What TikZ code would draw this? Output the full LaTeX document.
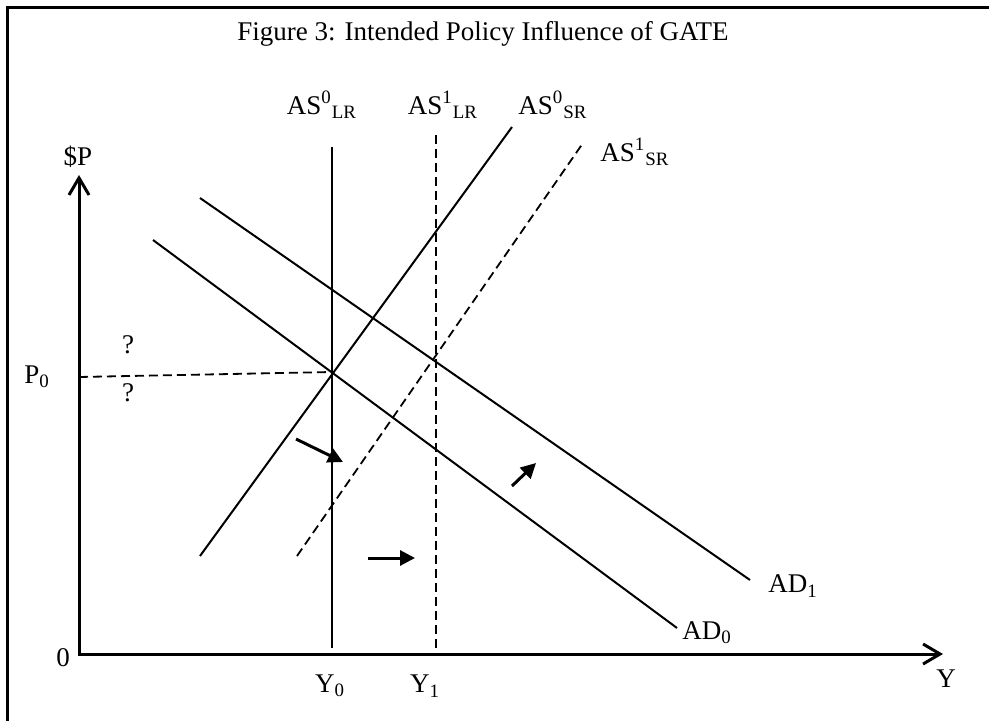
\documentclass[tikz,border=0pt]{standalone}
\usepackage{fontspec}
\setmainfont{Liberation Serif}
\usetikzlibrary{arrows.meta}
\tikzset{
  curve/.style={line width=1pt},
  shifted/.style={line width=0.9pt, dash pattern=on 4.5pt off 2.5pt},
  axisarrow/.style={line width=1.5pt, line join=miter,
    {Straight Barb[length=8.5pt,width=10pt]}-{Straight Barb[length=8.5pt,width=10pt]}},
  shiftarrow/.style={line width=1.5pt, -{Triangle[length=7.5pt,width=7.5pt]}},
  lbl/.style={inner sep=0pt, font=\fontsize{13.5}{16}\selectfont}
}
\begin{document}
\begin{tikzpicture}[x=0.5pt,y=-0.5pt]
\useasboundingbox (0,0) rectangle (989,721);
% frame (only left and top edges are on the page)
\draw[line width=1.2pt] (7.5,740) -- (7.5,7.5) -- (1005,7.5);
\node[lbl] (title) at (483,34) {Figure 3: Intended Policy Influence of GATE};
% axes
\coordinate (O) at (79,654);
\coordinate (ytip) at (79,175);
\coordinate (xtip) at (943,654);
\draw[axisarrow] (ytip) -- (O) -- (xtip);
\node[lbl] (plbl) at (78,157) {\$P};
\node[lbl] (zerolbl) at (63,658) {0};
\node[lbl] (ylbl) at (946,679) {Y};
% long-run supply
\coordinate (lr0top) at (332,147); \coordinate (lr0bot) at (332,648);
\coordinate (lr1top) at (436,135); \coordinate (lr1bot) at (436,648);
\draw[curve] (lr0top) -- (lr0bot);
\draw[shifted] (lr1top) -- (lr1bot);
\node[lbl] (lr0lbl) at (322,105) {AS\textsuperscript{0}\textsubscript{LR}};
\node[lbl] (lr1lbl) at (443,105) {AS\textsuperscript{1}\textsubscript{LR}};
\node[lbl] (y0lbl) at (330,686) {Y\textsubscript{0}};
\node[lbl] (y1lbl) at (425,686) {Y\textsubscript{1}};
% short-run supply
\coordinate (sr0a) at (200,556); \coordinate (sr0b) at (512,127);
\coordinate (sr1a) at (297,556); \coordinate (sr1b) at (583,143);
\draw[curve] (sr0a) -- (sr0b);
\draw[shifted] (sr1a) -- (sr1b);
\node[lbl] (sr0lbl) at (553,105) {AS\textsuperscript{0}\textsubscript{SR}};
\node[lbl] (sr1lbl) at (635,152) {AS\textsuperscript{1}\textsubscript{SR}};
% demand
\coordinate (ad0a) at (153,240); \coordinate (ad0b) at (677,628);
\coordinate (ad1a) at (200,198); \coordinate (ad1b) at (750,580);
\draw[curve] (ad0a) -- (ad0b);
\draw[curve] (ad1a) -- (ad1b);
\node[lbl] (ad0lbl) at (707,633) {AD\textsubscript{0}};
\node[lbl] (ad1lbl) at (793,586) {AD\textsubscript{1}};
% initial price level
\coordinate (E0) at (332,372);
\coordinate (p0end) at (79,377);
\draw[shifted] (p0end) -- (E0);
\node[lbl] (p0lbl) at (37,377) {P\textsubscript{0}};
\node[lbl] (qup) at (128,345) {?};
\node[lbl] (qdown) at (128,393) {?};
% shifts
\coordinate (s1a) at (296,439); \coordinate (s1b) at (343,462);
\coordinate (s2a) at (368,558); \coordinate (s2b) at (415,558);
\coordinate (s3a) at (512,486); \coordinate (s3b) at (536,463);
\draw[shiftarrow] (s1a) -- (s1b);
\draw[shiftarrow] (s2a) -- (s2b);
\draw[shiftarrow] (s3a) -- (s3b);
\end{tikzpicture}
\end{document}
